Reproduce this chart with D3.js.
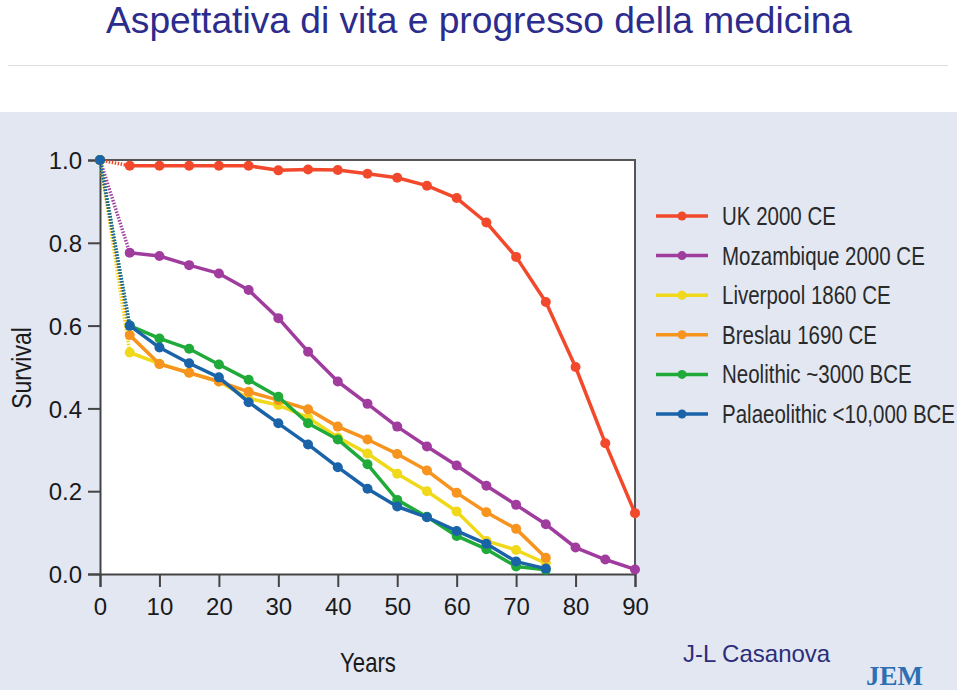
<!DOCTYPE html>
<html>
<head>
<meta charset="utf-8">
<script src="https://cdn.jsdelivr.net/npm/d3@7"></script>
<style>
  html, body { margin: 0; padding: 0; background: #ffffff; }
  svg { display: block; }
</style>
</head>
<body>
<svg id="chart" width="960" height="690"></svg>
<script>
// ---- data ----
const ages = [0, 5, 10, 15, 20, 25, 30, 35, 40, 45, 50, 55, 60, 65, 70, 75, 80, 85, 90];
const seriesNames = ["UK 2000 CE", "Mozambique 2000 CE", "Liverpool 1860 CE", "Breslau 1690 CE", "Neolithic ~3000 BCE", "Palaeolithic <10,000 BCE"];
const seriesColors = ["#f2492d", "#a03c9e", "#f0d81a", "#f7941f", "#1faa3a", "#1b63a8"];
const ukValues = [1.0, 0.986, 0.986, 0.986, 0.986, 0.986, 0.975, 0.977, 0.976, 0.967, 0.957, 0.938, 0.908, 0.849, 0.766, 0.657, 0.5, 0.316, 0.147];
const mozambiqueValues = [1.0, 0.776, 0.768, 0.746, 0.726, 0.686, 0.618, 0.537, 0.465, 0.411, 0.356, 0.308, 0.262, 0.213, 0.167, 0.12, 0.064, 0.035, 0.011];
const liverpoolValues = [1.0, 0.535, 0.508, 0.486, 0.465, 0.424, 0.408, 0.378, 0.33, 0.291, 0.242, 0.2, 0.151, 0.08, 0.058, 0.026];
const breslauValues = [1.0, 0.577, 0.507, 0.486, 0.465, 0.44, 0.42, 0.398, 0.356, 0.325, 0.29, 0.25, 0.196, 0.149, 0.109, 0.039];
const neolithicValues = [1.0, 0.6, 0.569, 0.544, 0.506, 0.469, 0.428, 0.364, 0.325, 0.265, 0.179, 0.138, 0.092, 0.06, 0.018, 0.01];
const palaeolithicValues = [1.0, 0.6, 0.547, 0.509, 0.475, 0.415, 0.364, 0.313, 0.258, 0.206, 0.163, 0.137, 0.104, 0.073, 0.03, 0.013];
const xTicks = [0, 10, 20, 30, 40, 50, 60, 70, 80, 90];
const yTicks = [0, 0.2, 0.4, 0.6, 0.8, 1.0];

const allValues = [ukValues, mozambiqueValues, liverpoolValues, breslauValues, neolithicValues, palaeolithicValues];
const series = seriesNames.map((name, i) => ({
  name, color: seriesColors[i],
  points: allValues[i].map((v, j) => ({ age: ages[j], v }))
}));

const svg = d3.select("#chart");
const SANS = "Liberation Sans, Arial, Helvetica, sans-serif";
const NARROW = 0.82;

// title
svg.append("text")
  .attr("x", 106).attr("y", 33)
  .attr("font-family", SANS)
  .attr("font-size", 37)
  .attr("fill", "#2c2c8c")
  .attr("textLength", 746)
  .attr("lengthAdjust", "spacingAndGlyphs")
  .text("Aspettativa di vita e progresso della medicina");

svg.append("line")
  .attr("x1", 8).attr("x2", 948).attr("y1", 65.5).attr("y2", 65.5)
  .attr("stroke", "#dcdcdc").attr("stroke-width", 1);

// panel
svg.append("rect")
  .attr("x", 0).attr("y", 112).attr("width", 957).attr("height", 578)
  .attr("fill", "#e2e7f2");

const x = d3.scaleLinear().domain([0, 90]).range([100, 635]);
const y = d3.scaleLinear().domain([0, 1]).range([574, 160]);

// plot area
svg.append("rect")
  .attr("x", x(0)).attr("y", y(1))
  .attr("width", x(90) - x(0)).attr("height", y(0) - y(1))
  .attr("fill", "#ffffff");

// frame top/right
svg.append("path")
  .attr("d", `M${x(0)},${y(1)}H${x(90)}V${y(0)}`)
  .attr("fill", "none").attr("stroke", "#555").attr("stroke-width", 2);

// axes
const xAxis = svg.append("g")
  .attr("transform", `translate(0,${y(0)})`)
  .call(d3.axisBottom(x).tickValues(xTicks).tickSize(13).tickPadding(11).tickFormat(d3.format("d")));
xAxis.selectAll("text")
  .attr("font-family", SANS)
  .attr("font-size", 24).attr("fill", "#1a1a1a");

const yAxis = svg.append("g")
  .attr("transform", `translate(${x(0)},0)`)
  .call(d3.axisLeft(y).tickValues(yTicks).tickSize(12).tickPadding(6).tickFormat(d3.format(".1f")));
yAxis.selectAll("text")
  .attr("font-family", SANS)
  .attr("font-size", 24).attr("fill", "#1a1a1a").attr("dy", "0.36em");

[xAxis, yAxis].forEach(a => {
  a.select(".domain").attr("stroke", "#444").attr("stroke-width", 2);
  a.selectAll(".tick line").attr("stroke", "#444").attr("stroke-width", 2);
});

svg.append("text")
  .attr("transform", `translate(368,672) scale(${NARROW},1)`)
  .attr("text-anchor", "middle")
  .attr("font-family", SANS)
  .attr("font-size", 27).attr("fill", "#1a1a1a")
  .text("Years");

svg.append("text")
  .attr("transform", `translate(31,368) rotate(-90) scale(${NARROW},1)`)
  .attr("text-anchor", "middle")
  .attr("font-family", SANS)
  .attr("font-size", 28).attr("fill", "#1a1a1a")
  .text("Survival");

// lines
const line = d3.line().x(d => x(d.age)).y(d => y(d.v));
const g = svg.append("g");
series.forEach(s => {
  // dotted first segment
  g.append("path")
    .datum(s.points.slice(0, 2))
    .attr("d", line)
    .attr("fill", "none").attr("stroke", s.color)
    .attr("stroke-width", 3.5).attr("stroke-dasharray", "1.5,1.5");
  g.append("path")
    .datum(s.points.slice(1))
    .attr("d", line)
    .attr("fill", "none").attr("stroke", s.color)
    .attr("stroke-width", 3.5).attr("stroke-linejoin", "round");
  g.selectAll(null).data(s.points).enter().append("circle")
    .attr("cx", d => x(d.age)).attr("cy", d => y(d.v)).attr("r", 5)
    .attr("fill", s.color);
});

// legend
const legend = svg.append("g");
const lgY = d3.scaleLinear().domain([0, 5]).range([216, 414]);
series.forEach((s, i) => {
  const ly = lgY(i);
  legend.append("line")
    .attr("x1", 656).attr("x2", 708).attr("y1", ly).attr("y2", ly)
    .attr("stroke", s.color).attr("stroke-width", 3.5);
  legend.append("circle")
    .attr("cx", 682).attr("cy", ly).attr("r", 4.5).attr("fill", s.color);
  legend.append("text")
    .attr("transform", `translate(722,${ly + 9}) scale(${NARROW},1)`)
    .attr("font-family", SANS)
    .attr("font-size", 25).attr("fill", "#2a2a2a")
    .text(s.name);
});

// credits
svg.append("text")
  .attr("x", 683).attr("y", 662)
  .attr("font-family", SANS)
  .attr("font-size", 24).attr("fill", "#2d2d7a")
  .text("J-L Casanova");

svg.append("text")
  .attr("x", 866).attr("y", 685)
  .attr("font-family", "Liberation Serif, Times New Roman, serif")
  .attr("font-size", 27).attr("font-weight", "bold").attr("fill", "#2e6fb3")
  .text("JEM");
</script>
</body>
</html>
